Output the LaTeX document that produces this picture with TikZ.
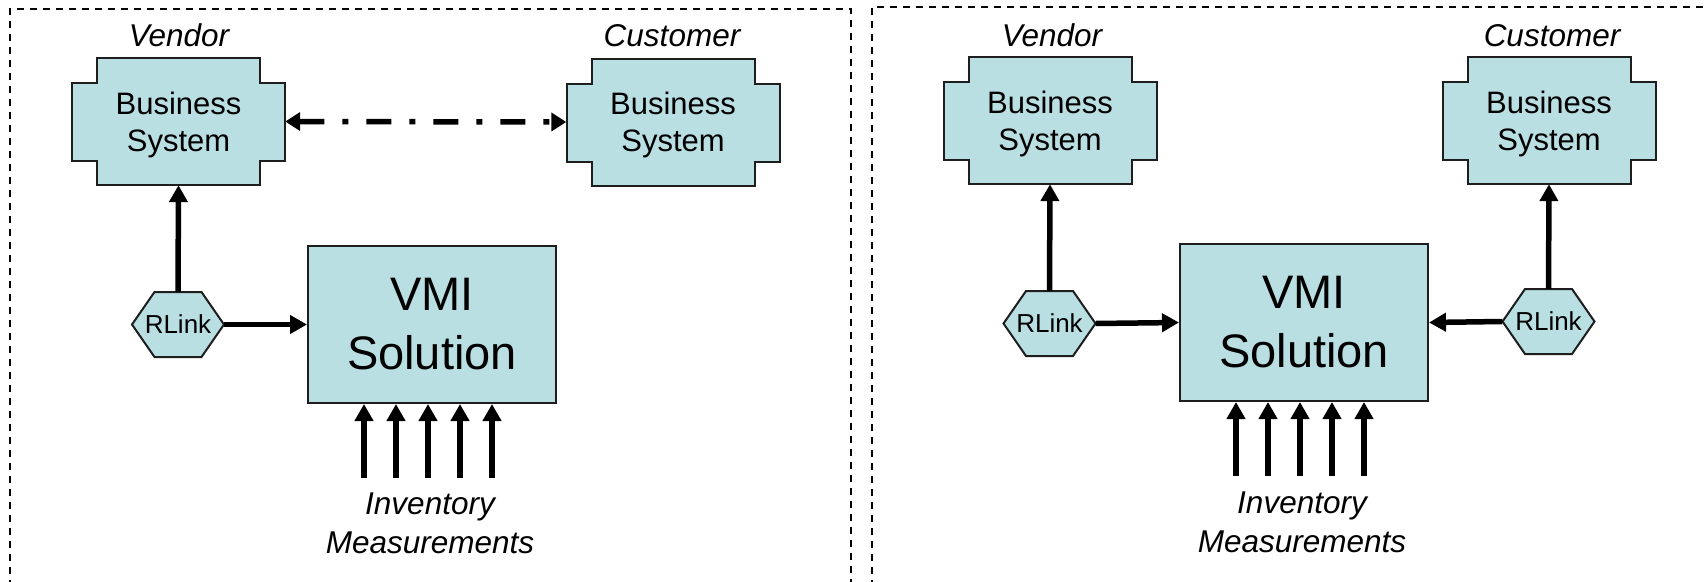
\documentclass[tikz,border=0pt]{standalone}
\usepackage{fontspec}
\setmainfont{Liberation Sans}
\usetikzlibrary{arrows.meta,calc}
\definecolor{boxfill}{RGB}{185,223,227}
\definecolor{boxline}{RGB}{30,30,30}
\tikzset{
  frame/.style={line width=1.8pt, dash pattern=on 7pt off 6pt, black},
  shapeline/.style={fill=boxfill, draw=boxline, line width=2pt, line join=miter},
  bizbody/.style={minimum width=213pt, minimum height=127pt, inner sep=0pt, draw=none},
  biztext/.style={align=center, font=\fontsize{31}{37}\selectfont, inner sep=0pt},
  hexbody/.style={minimum width=92pt, minimum height=65pt, inner sep=0pt, draw=none, font=\fontsize{26}{30}\selectfont},
  vmibox/.style={shapeline, minimum width=248pt, minimum height=157pt, inner sep=0pt, align=center, font=\fontsize{47}{59}\selectfont},
  role/.style={font=\fontsize{31.5}{37}\selectfont\itshape, anchor=base, inner sep=0pt},
  meas/.style={font=\fontsize{31.5}{39}\selectfont\itshape, align=center, inner sep=0pt},
  flow/.style={line width=5.5pt, -{Triangle[width=18pt,length=17pt]}},
  dashdot/.style={line width=5.5pt, {Triangle[width=18pt,length=15pt]}-{Triangle[width=18pt,length=15pt]}, dash pattern=on 25pt off 18pt on 6pt off 18pt}
}
\newcommand\bizsys[3]{%
  \path[shapeline] (#2-81.5,#3-63.5) -- ++(163,0) -- ++(0,25) -- ++(25,0) -- ++(0,78) -- ++(-25,0) -- ++(0,24) -- ++(-163,0) -- ++(0,-24) -- ++(-25,0) -- ++(0,-78) -- ++(25,0) -- cycle;
  \node[bizbody] (#1) at (#2,#3) {};
  \node[biztext] (#1t) at ([yshift=-3pt]#1.center) {Business\\System};
}
\newcommand\rlinkhex[3]{%
  \path[shapeline] (#2-46,#3) -- ++(22.5,-32.5) -- ++(47,0) -- ++(22.5,32.5) -- ++(-22.5,32.5) -- ++(-47,0) -- cycle;
  \node[hexbody] (#1) at (#2,#3) {RLink};
}
\begin{document}
\begin{tikzpicture}[x=1pt,y=-1pt]
\useasboundingbox (0,0) rectangle (1705,581);
\clip (0,0) rectangle (1705,581);
\fill[white] (0,0) rectangle (1705,581);
% frames
\draw[frame] (10,600) -- (10,9) -- (851,9) -- (851,600);
\draw[frame] (872,600) -- (872,7) -- (1720,7);
% ---------- left panel
\bizsys{vb1}{178.5}{121.5}
\bizsys{cb1}{673}{122}
\node[role] (vl1) at (179,46.5) {Vendor};
\node[role] (cl1) at (672,46.5) {Customer};
\node[vmibox] (vmi1) at (432,324.5) {VMI\\Solution};
\rlinkhex{rl1}{178}{324.5}
\draw[flow] (rl1.north) -- (vb1.south);
\draw[flow] (rl1.east) -- (vmi1.west);
\draw[dashdot] (vb1.east) -- (cb1.west);
\foreach \dx [count=\i] in {-64,-32,0,32,64} {
  \coordinate (inva\i) at (428+\dx,478);
  \draw[flow] (inva\i) -- (inva\i |- vmi1.south);
}
\node[meas] (ml1) at (430,523) {Inventory\\Measurements};
% ---------- right panel
\bizsys{vb2}{1050}{120.5}
\bizsys{cb2}{1549}{120.5}
\node[role] (vl2) at (1052,46.5) {Vendor};
\node[role] (cl2) at (1552,46.5) {Customer};
\node[vmibox] (vmi2) at (1304,322.5) {VMI\\Solution};
\rlinkhex{rl2}{1049.5}{323.5}
\rlinkhex{rl3}{1548.5}{321.5}
\draw[flow] (rl2.north) -- (vb2.south);
\draw[flow] (rl2.east) -- (vmi2.west);
\draw[flow] (rl3.north) -- (cb2.south);
\draw[flow] (rl3.west) -- (vmi2.east);
\foreach \dx [count=\i] in {-64,-32,0,32,64} {
  \coordinate (invb\i) at (1300+\dx,476);
  \draw[flow] (invb\i) -- (invb\i |- vmi2.south);
}
\node[meas] (ml2) at (1302,522) {Inventory\\Measurements};
\end{tikzpicture}
\end{document}
